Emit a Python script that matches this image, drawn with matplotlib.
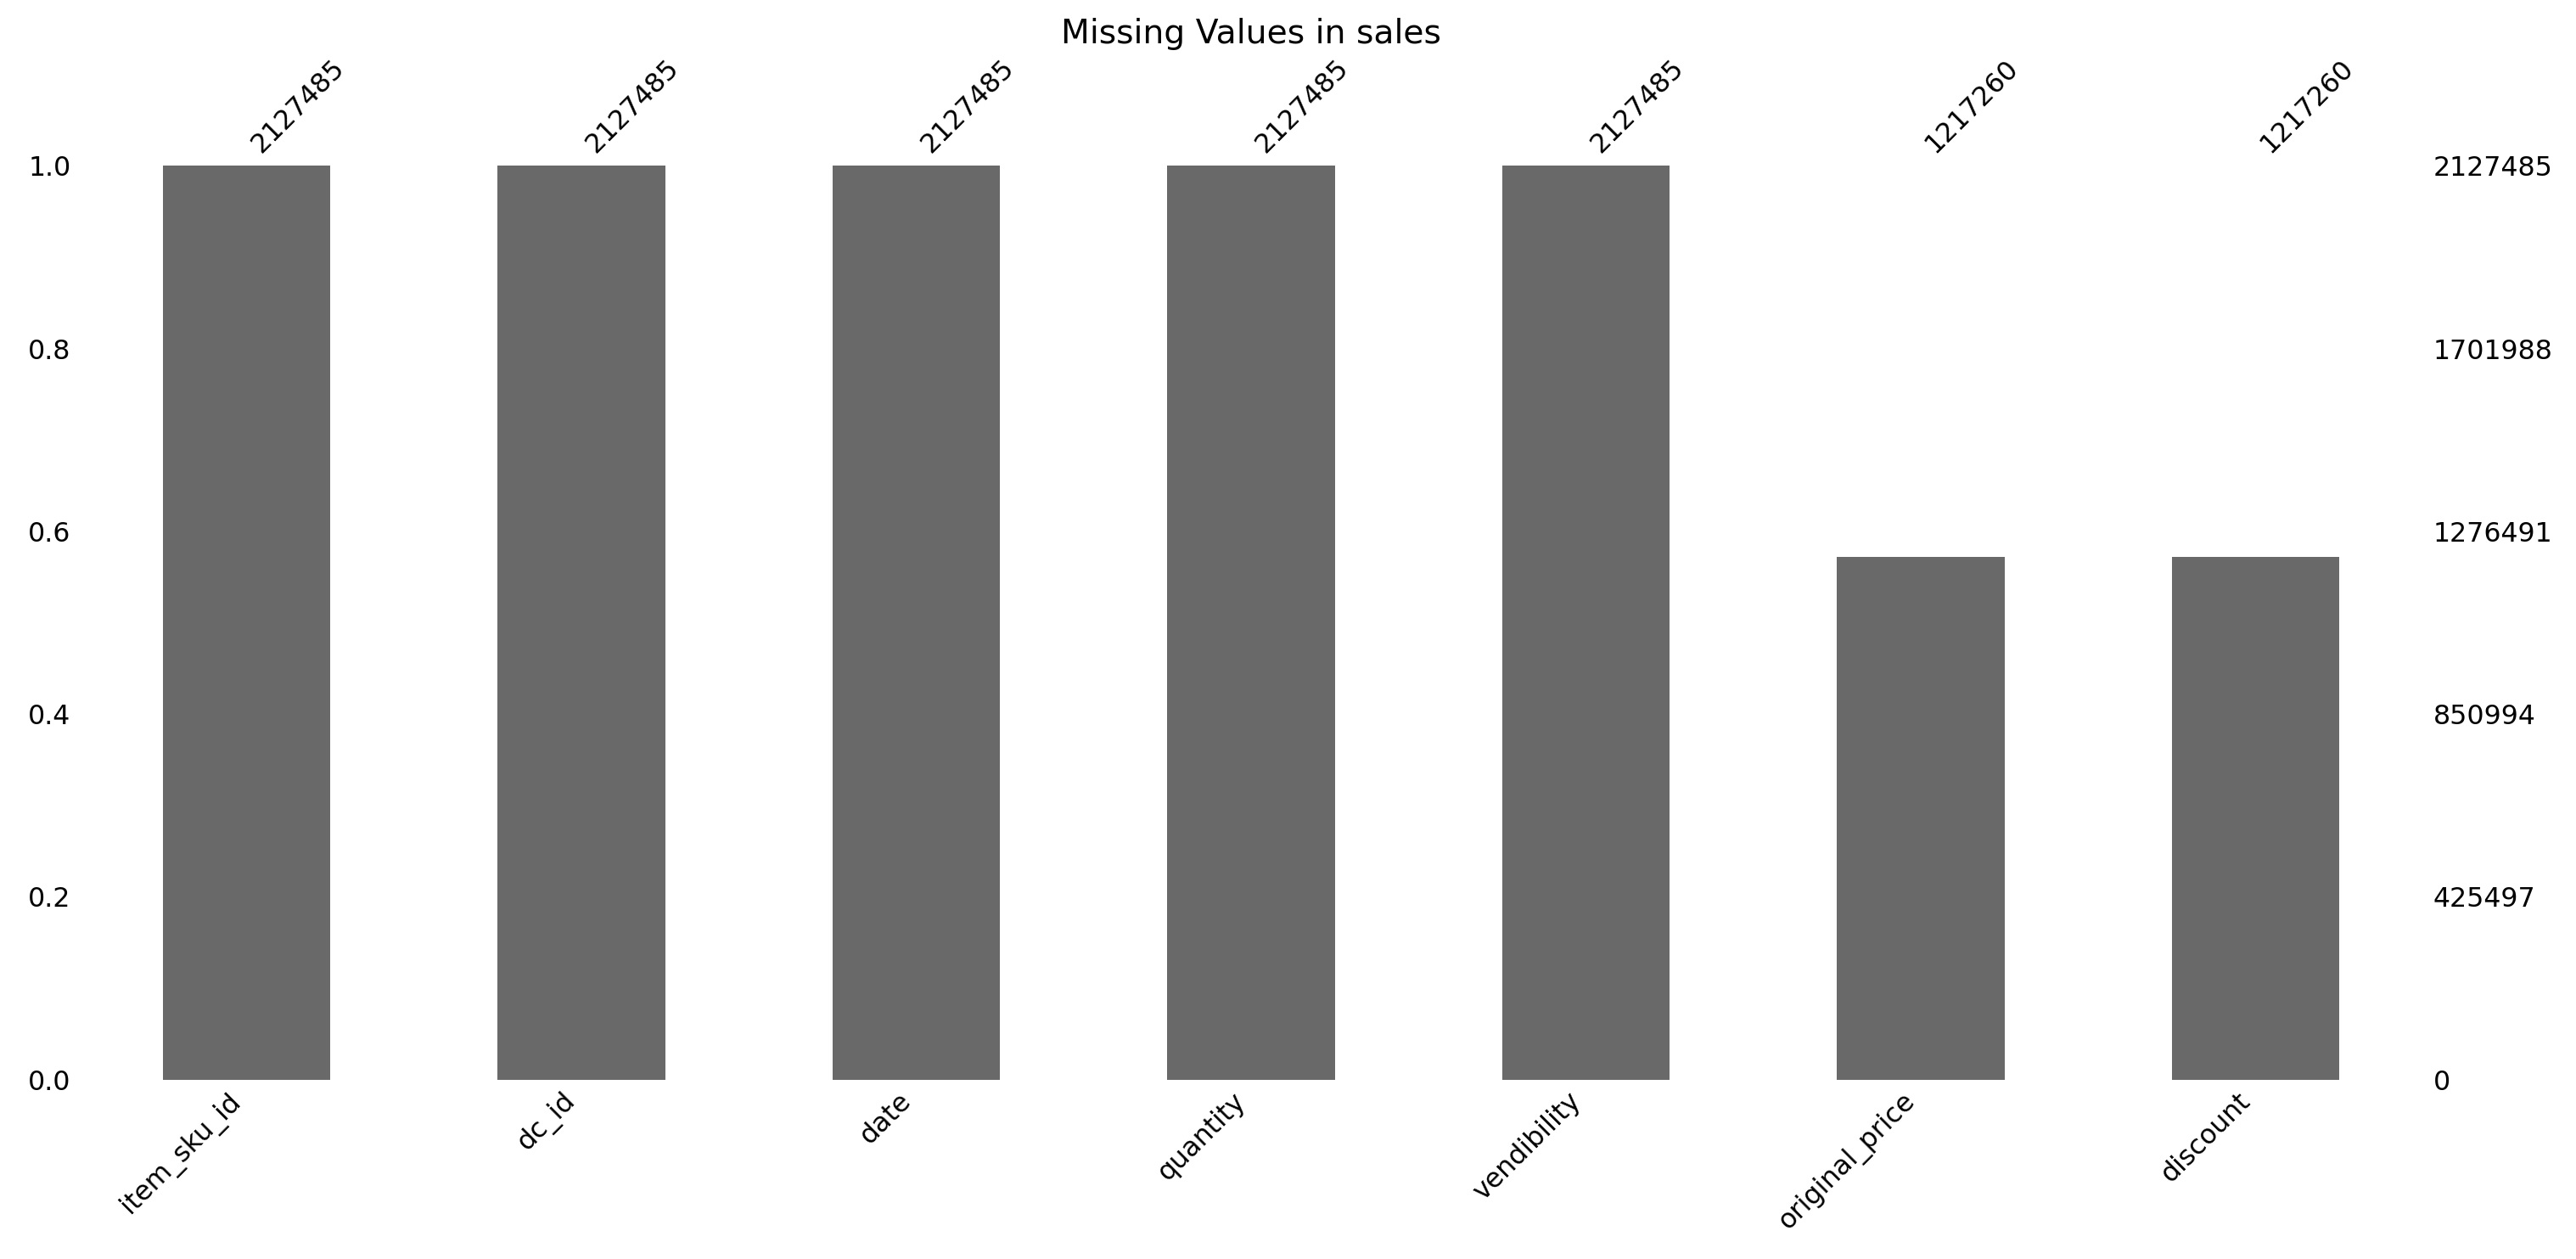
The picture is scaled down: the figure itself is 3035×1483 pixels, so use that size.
#!/usr/bin/env python3
"""Missing-values bar chart for the sales table (missingno style)."""

import matplotlib

matplotlib.use("Agg")
import matplotlib.pyplot as plt
import numpy as np

columns = [
    "item_sku_id",
    "dc_id",
    "date",
    "quantity",
    "vendibility",
    "original_price",
    "discount",
]
non_null_counts = [2127485, 2127485, 2127485, 2127485, 2127485, 1217260, 1217260]
total_rows = 2127485
y_ticks = [0.0, 0.2, 0.4, 0.6, 0.8, 1.0]

FONT = 22.8
COLOR = "dimgray"

fig = plt.figure(figsize=(30.35, 14.83), dpi=100)
ax1 = fig.add_axes([0.0307, 0.1425, 0.9099, 0.7257])

x = np.arange(len(columns))
fractions = np.array(non_null_counts) / total_rows
ax1.bar(x, fractions, width=0.5, color=COLOR)
ax1.set_xlim(-0.5, len(columns) - 0.5)
ax1.set_ylim(0, 1)
ax1.set_xticks(x)
ax1.set_xticklabels(columns, rotation=45, ha="right", fontsize=FONT)
ax1.set_yticks(y_ticks)
ax1.set_yticklabels([f"{t:.1f}" for t in y_ticks], fontsize=FONT)

# right axis: absolute counts
ax2 = ax1.twinx()
ax2.set_ylim(ax1.get_ylim())
ax2.set_yticks(y_ticks)
ax2.set_yticklabels([int(t * total_rows) for t in y_ticks], fontsize=FONT)

# top axis: per-column totals
ax3 = ax1.twiny()
ax3.set_xlim(ax1.get_xlim())
ax3.set_xticks(x)
ax3.set_xticklabels(non_null_counts, rotation=45, ha="left", fontsize=FONT)

for ax in (ax1, ax2, ax3):
    for side in ("top", "bottom", "left", "right"):
        ax.spines[side].set_visible(False)
    ax.xaxis.set_ticks_position("none")
    ax.yaxis.set_ticks_position("none")
    ax.grid(False)
ax3.tick_params(axis="x", labeltop=True, labelbottom=False)
ax2.tick_params(axis="y", labelright=True, labelleft=False, pad=5)

fig.text(0.4857, 0.973, "Missing Values in sales", ha="center", va="center",
         fontsize=28.3)

fig.savefig("out.png", dpi=100)
plt.close(fig)
